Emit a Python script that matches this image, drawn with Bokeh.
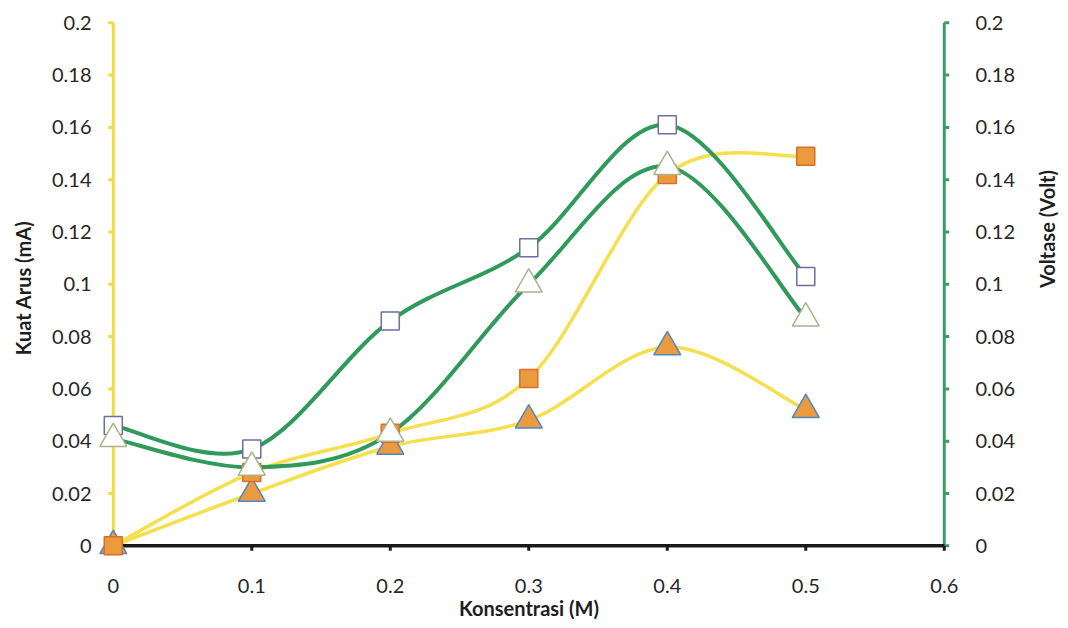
import math
from bokeh.plotting import figure
from bokeh.models import Range1d, LinearAxis, FixedTicker, CustomJSTickFormatter
from bokeh.embed import file_html
from bokeh.resources import INLINE

# ---- data ----
konsentrasi = [0.0, 0.1, 0.2, 0.3, 0.4, 0.5]
arus_kotak = [0.0, 0.028, 0.043, 0.064, 0.142, 0.149]       # orange squares (mA)
arus_segitiga = [0.0, 0.020, 0.038, 0.048, 0.076, 0.052]    # orange triangles (mA)
volt_kotak = [0.046, 0.037, 0.086, 0.114, 0.161, 0.103]     # white squares (Volt)
volt_segitiga = [0.041, 0.030, 0.043, 0.100, 0.145, 0.087]  # white triangles (Volt)
y_ticks = [0, 0.02, 0.04, 0.06, 0.08, 0.1, 0.12, 0.14, 0.16, 0.18, 0.2]
x_ticks = [0, 0.1, 0.2, 0.3, 0.4, 0.5, 0.6]

FONT = "Lato"
PX_X = 1385.0   # pixels per unit x
PX_Y = 2615.0   # pixels per unit y

def smooth(xs, ys):
    """Catmull-Rom style Bezier segments (like a spreadsheet 'smoothed line')."""
    n = len(xs)
    seg = dict(x0=[], y0=[], x1=[], y1=[], cx0=[], cy0=[], cx1=[], cy1=[])
    for i in range(n - 1):
        a = i - 1 if i > 0 else i
        d = i + 2 if i + 2 < n else i + 1
        seg["x0"].append(xs[i]); seg["y0"].append(ys[i])
        seg["x1"].append(xs[i + 1]); seg["y1"].append(ys[i + 1])
        seg["cx0"].append(xs[i] + (xs[i + 1] - xs[a]) / 6)
        seg["cy0"].append(ys[i] + (ys[i + 1] - ys[a]) / 6)
        seg["cx1"].append(xs[i + 1] - (xs[d] - xs[i]) / 6)
        seg["cy1"].append(ys[i + 1] - (ys[d] - ys[i]) / 6)
    return seg

FW, FH = 873, 547
x0, y0 = -0.015, -0.006
p = figure(frame_width=FW, frame_height=FH,
           x_range=Range1d(x0, x0 + FW / PX_X), y_range=Range1d(y0, y0 + FH / PX_Y),
           output_backend="svg", toolbar_location=None, title=None,
           min_border_left=92, min_border_right=103, min_border_top=14, min_border_bottom=67,
           background_fill_color="white", border_fill_color="white",
           outline_line_color=None)
p.extra_y_ranges = {"volt": Range1d(y0, y0 + FH / PX_Y)}
p.xgrid.visible = False
p.ygrid.visible = False

fmt_code = r"var s = tick.toFixed(2); s = s.replace(/0+$/, ''); s = s.replace(/\.$/, ''); return s;"

def style_axis(ax, standoff):
    ax.formatter = CustomJSTickFormatter(code=fmt_code)
    ax.axis_line_color = None
    ax.major_tick_line_color = None
    ax.minor_tick_line_color = None
    ax.major_tick_out = 0
    ax.major_tick_in = 0
    ax.major_label_standoff = standoff
    ax.major_label_text_font = FONT
    ax.major_label_text_font_size = "20px"
    ax.major_label_text_color = "#262626"
    ax.axis_label_text_font = FONT
    ax.axis_label_text_font_size = "20px"
    ax.axis_label_text_font_style = "bold"
    ax.axis_label_text_color = "#1e1e1e"

xa = p.xaxis[0]
xa.ticker = FixedTicker(ticks=x_ticks)
style_axis(xa, 17)
xa.axis_label = "Konsentrasi (M)"
xa.axis_label_standoff = 0

ya = p.yaxis[0]
ya.ticker = FixedTicker(ticks=y_ticks)
style_axis(ya, 1)
ya.axis_label = "Kuat Arus (mA)"
ya.axis_label_standoff = 14

ra = LinearAxis(y_range_name="volt")
ra.ticker = FixedTicker(ticks=y_ticks)
style_axis(ra, 10)
ra.axis_label = "Voltase (Volt)"
ra.axis_label_standoff = 29
if "axis_label_orientation" in ra.properties():
    ra.axis_label_orientation = math.pi / 2
p.add_layout(ra, "right")

# ---- axis lines & ticks drawn at the data origin ----
YAX = "#f5da3c"
GAX = "#3a9e66"
KAX = "#1a1a1a"
tlx = 5 / PX_X
tly = 5 / PX_Y
p.segment(x0=[0], y0=[0], x1=[0], y1=[y_ticks[-1]], line_color=YAX, line_width=3)
p.segment(x0=[0] * len(y_ticks), y0=y_ticks, x1=[-tlx] * len(y_ticks), y1=y_ticks,
          line_color=YAX, line_width=3)
p.segment(x0=[x_ticks[-1]], y0=[0], x1=[x_ticks[-1]], y1=[y_ticks[-1]], line_color=GAX,
          line_width=3, y_range_name="volt")
p.segment(x0=[x_ticks[-1]] * len(y_ticks), y0=y_ticks, x1=[x_ticks[-1] + tlx] * len(y_ticks),
          y1=y_ticks, line_color=GAX, line_width=3, y_range_name="volt")
p.segment(x0=[0], y0=[0], x1=[x_ticks[-1]], y1=[0], line_color=KAX, line_width=3.5)
p.segment(x0=x_ticks, y0=[0] * len(x_ticks), x1=x_ticks, y1=[-tly] * len(x_ticks),
          line_color=KAX, line_width=3)

# ---- smoothed lines ----
YEL = "#f6df4c"
GRN = "#2f9a5c"
p.bezier(line_color=YEL, line_width=3.5, **smooth(konsentrasi, arus_kotak))
p.bezier(line_color=YEL, line_width=3.5, **smooth(konsentrasi, arus_segitiga))
p.bezier(line_color=GRN, line_width=4, y_range_name="volt", **smooth(konsentrasi, volt_kotak))
p.bezier(line_color=GRN, line_width=4, y_range_name="volt", **smooth(konsentrasi, volt_segitiga))

# ---- markers ----
p.scatter(konsentrasi, arus_segitiga, marker="triangle", size=27,
          fill_color="#ec9a3e", line_color="#4f86c6", line_width=1.5)
p.scatter(konsentrasi, arus_kotak, marker="square", size=18,
          fill_color="#ec9a3e", line_color="#d66f2c", line_width=1.5)
p.scatter(konsentrasi, volt_kotak, marker="square", size=18, y_range_name="volt",
          fill_color="white", line_color="#6e6ea0", line_width=1.5)
p.scatter(konsentrasi, volt_segitiga, marker="triangle", size=27, y_range_name="volt",
          fill_color="white", line_color="#aab28c", line_width=1.5)

open("out.html", "w").write(file_html(p, INLINE))
